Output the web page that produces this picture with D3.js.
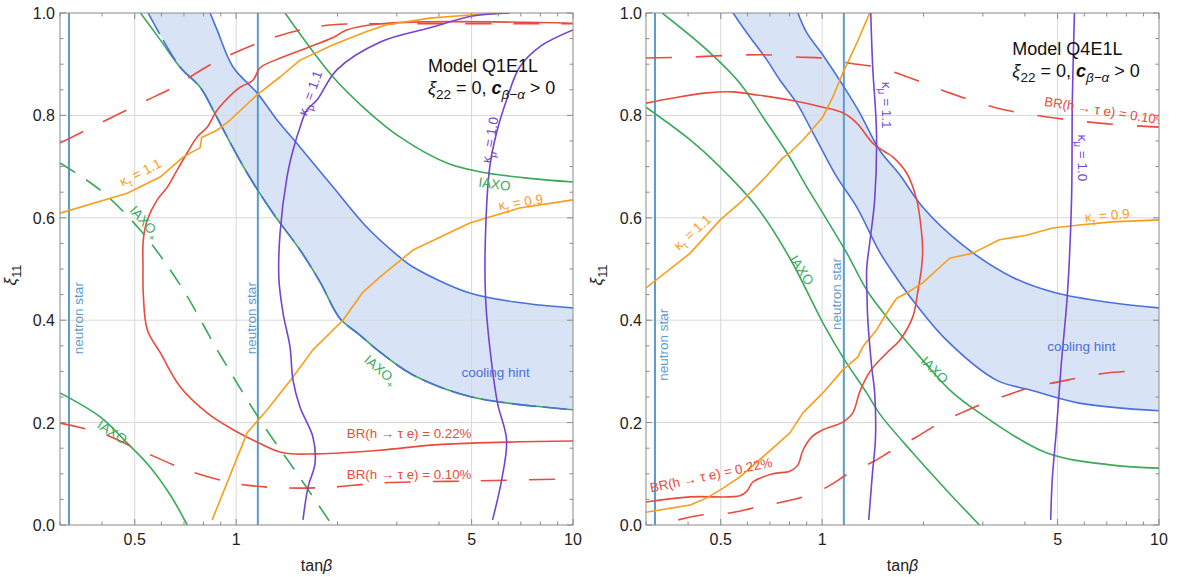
<!DOCTYPE html>
<html>
<head>
<meta charset="utf-8">
<script src="https://cdn.jsdelivr.net/npm/d3@7"></script>
<style>
body { margin: 0; background: #fff; }
svg text { font-family: "Liberation Sans", Arial, sans-serif; }
</style>
</head>
<body>
<div id="chart"></div>
<script>
// --> DATA (tanBeta, xi11)

var xMajor = [0.5, 1, 5, 10];
var xMinor = [0.3, 0.4, 0.6, 0.7, 0.8, 0.9, 2, 3, 4, 6, 7, 8, 9];
var yMajor = [0, 0.2, 0.4, 0.6, 0.8, 1.0];
var yMinor = [0.05, 0.1, 0.15, 0.25, 0.3, 0.35, 0.45, 0.5, 0.55, 0.65, 0.7, 0.75, 0.85, 0.9, 0.95];
var neutronStar = [0.319, 1.16];

// Model Q1E1L
var q1CoolUpper = [[0.837,1.0],[0.878,0.967],[0.98,0.894],[1.154,0.844],[1.323,0.791],[1.548,0.738],
    [1.94,0.66],[2.44,0.582],[3.06,0.523],[3.35,0.504],[4.94,0.453],[7,0.434],[10,0.424]];
var q1CoolLower = [[0.548,1.0],[0.682,0.894],[0.782,0.855],[0.855,0.81],[0.94,0.758],[1.078,0.6875],
    [1.287,0.609],[1.548,0.537],[1.774,0.475],[2.03,0.404],[2.33,0.371],[2.67,0.338],[3.35,0.293],
    [5.0,0.25],[10,0.225]];
var q1IaxoPlus = [[0.52,1.0],[0.596,0.947],[0.682,0.894],[0.782,0.855],[0.855,0.81],[0.94,0.758],
    [1.078,0.6875],[1.287,0.609],[1.548,0.537],[1.774,0.475],[2.03,0.404],[2.33,0.371],[2.67,0.338],
    [3.35,0.293],[5.0,0.25],[10,0.225]];
var q1IaxoPlusDashed = [[0.3,0.707],[0.395,0.654],[0.519,0.576],[0.682,0.469],[0.897,0.332],
    [1.178,0.205],[1.548,0.092],[1.925,0.0]];
var q1IaxoUpper = [[1.397,1.0],[1.94,0.875],[2.44,0.81],[3.06,0.758],[4.22,0.707],[5.28,0.69],
    [7.43,0.677],[10,0.67]];
var q1IaxoLower = [[0.3,0.258],[0.395,0.211],[0.475,0.16],[0.556,0.113],[0.637,0.059],[0.716,0.0]];
var q1BrSolid = [[10,0.98],[2.8,0.98],[2.13,0.967],[1.94,0.952],[1.378,0.914],[1.178,0.893],
    [1.123,0.869],[1.028,0.855],[0.98,0.844],[0.878,0.81],[0.82,0.777],[0.766,0.758],[0.716,0.727],
    [0.668,0.693],[0.625,0.66],[0.583,0.635],[0.545,0.596],[0.53,0.557],[0.529,0.504],[0.53,0.453],
    [0.545,0.381],[0.596,0.336],[0.682,0.27],[0.82,0.219],[0.98,0.186],[1.154,0.162],[1.378,0.141],
    [1.738,0.139],[2.67,0.146],[3.76,0.156],[5.0,0.16],[10,0.164]];
var q1BrDashedUpper = [[0.3,0.746],[0.395,0.785],[0.545,0.83],[0.651,0.855],[0.855,0.902],
    [1.178,0.943],[1.548,0.967],[1.94,0.977],[3.06,0.979],[10,0.979]];
var q1BrDashedLower = [[0.3,0.199],[0.395,0.18],[0.519,0.146],[0.716,0.107],[0.98,0.082],
    [1.236,0.074],[1.548,0.072],[1.94,0.074],[2.67,0.082],[4.94,0.086],[10,0.09]];
var q1KtauHigh = [[0.3,0.609],[0.475,0.648],[0.596,0.68],[0.697,0.719],[0.782,0.737],[0.79,0.757],
    [0.878,0.771],[0.96,0.791],[1.154,0.84],[1.35,0.875],[1.548,0.908],[1.94,0.938],[2.44,0.964],
    [2.8,0.977],[3.76,0.99],[4.94,0.996],[6.5,1.0]];
var q1KtauLow = [[0.849,0.01],[1.078,0.18],[1.236,0.225],[1.475,0.289],[1.69,0.342],[2.075,0.40],
    [2.38,0.455],[2.67,0.484],[3.35,0.537],[4.94,0.59],[6.94,0.619],[10,0.635]];
var q1KmuHigh = [[1.579,0.01],[1.635,0.074],[1.715,0.121],[1.69,0.172],[1.548,0.23],[1.475,0.283],
    [1.445,0.348],[1.378,0.414],[1.34,0.479],[1.35,0.57],[1.416,0.68],[1.475,0.732],[1.548,0.777],
    [1.623,0.811],[1.738,0.83],[1.99,0.889],[2.67,0.943],[3.76,0.971],[5.04,0.994],[6.48,1.0]];
var q1KmuLow = [[5.77,0.01],[6.14,0.088],[6.35,0.166],[5.97,0.238],[5.66,0.348],[5.5,0.445],
    [5.5,0.57],[5.66,0.699],[5.93,0.766],[6.35,0.83],[6.94,0.894],[7.96,0.934],[10,0.967]];

// Model Q4E1L
var q4CoolUpper = [[0.847,1.0],[0.901,0.961],[1.005,0.918],[1.152,0.859],[1.293,0.805],[1.482,0.732],
    [1.70,0.684],[1.987,0.621],[2.61,0.547],[3.67,0.484],[4.96,0.453],[7.26,0.434],[10,0.424]];
var q4CoolLower = [[0.544,1.0],[0.598,0.961],[0.686,0.908],[0.749,0.869],[0.841,0.824],[0.92,0.777],
    [1.0,0.732],[1.105,0.68],[1.267,0.621],[1.482,0.533],[1.665,0.482],[1.857,0.439],[2.34,0.361],
    [3.29,0.283],[4.13,0.264],[5.8,0.238],[10,0.223]];
var q4IaxoUpper = [[0.335,1.0],[0.455,0.928],[0.57,0.863],[0.667,0.797],[0.786,0.727],[0.901,0.66],
    [1.005,0.609],[1.184,0.531],[1.356,0.459],[1.555,0.406],[1.734,0.367],[1.987,0.322],[2.39,0.264],
    [2.93,0.219],[4.63,0.141],[7.26,0.117],[10,0.111]];
var q4IaxoLower = [[0.3,0.816],[0.406,0.752],[0.498,0.699],[0.64,0.621],[0.802,0.521],[1.005,0.395],
    [1.152,0.328],[1.356,0.258],[1.482,0.217],[1.857,0.141],[2.34,0.068],[2.93,0.0]];
var q4BrSolid = [[0.3,0.824],[0.361,0.834],[0.455,0.844],[0.544,0.846],[0.64,0.84],[0.802,0.83],
    [1.005,0.816],[1.152,0.805],[1.267,0.785],[1.413,0.746],[1.534,0.729],[1.62,0.719],[1.781,0.6875],
    [1.909,0.635],[1.974,0.57],[1.988,0.537],[1.974,0.504],[1.92,0.453],[1.857,0.406],[1.70,0.361],
    [1.555,0.336],[1.384,0.299],[1.293,0.26],[1.233,0.219],[1.152,0.201],[1.005,0.186],[0.932,0.172],
    [0.877,0.146],[0.847,0.117],[0.802,0.105],[0.714,0.10],[0.623,0.084],[0.598,0.066],[0.57,0.057],
    [0.406,0.055],[0.3,0.045]];
var q4BrDashedUpper = [[0.3,0.912],[0.406,0.914],[0.57,0.918],[0.714,0.918],[0.84,0.914],[1.005,0.912],
    [1.208,0.902],[1.482,0.893],[2.01,0.863],[2.39,0.844],[3.32,0.814],[4.66,0.797],[6.65,0.785],
    [10,0.777]];
var q4BrDashedLower = [[0.374,0.01],[0.443,0.02],[0.526,0.023],[0.623,0.033],[0.739,0.043],
    [0.877,0.055],[1.032,0.074],[1.208,0.102],[1.413,0.123],[1.587,0.143],[1.906,0.172],[2.23,0.199],
    [2.59,0.219],[3.03,0.238],[3.55,0.254],[4.21,0.27],[4.99,0.279],[5.92,0.289],[7.02,0.297],
    [8.44,0.301]];
var q4KtauHigh = [[0.3,0.463],[0.406,0.531],[0.498,0.596],[0.57,0.629],[0.667,0.674],[0.764,0.717],
    [0.802,0.727],[0.877,0.752],[1.005,0.797],[1.076,0.836],[1.152,0.883],[1.267,0.941],[1.384,1.0]];
var q4KtauLow = [[0.3,0.025],[0.406,0.039],[0.455,0.053],[0.508,0.072],[0.57,0.094],[0.64,0.123],
    [0.714,0.15],[0.802,0.18],[0.877,0.219],[1.005,0.258],[1.152,0.303],[1.275,0.328],[1.32,0.348],
    [1.45,0.381],[1.555,0.414],[1.664,0.443],[1.781,0.453],[1.988,0.473],[2.39,0.521],[2.80,0.531],
    [3.36,0.557],[4.04,0.566],[4.83,0.58],[5.80,0.586],[7.26,0.592],[10,0.596]];
var q4KmuHigh = [[1.394,1.0],[1.413,0.894],[1.45,0.766],[1.432,0.635],[1.39,0.56],[1.356,0.5],
    [1.36,0.44],[1.365,0.406],[1.403,0.309],[1.432,0.258],[1.44,0.17],[1.41,0.1],[1.375,0.01]];
var q4KmuLow = [[5.61,1.0],[5.53,0.83],[5.5,0.635],[5.35,0.453],[5.13,0.316],[4.96,0.186],
    [4.82,0.088],[4.77,0.01]];

// --> DRAWING
var width = 1179, height = 577;
var svg = d3.select("#chart").append("svg")
    .attr("width", width)
    .attr("height", height);

var col = {
    red: "#ea4b3c", orange: "#f99e1a", green: "#3aa95a", purple: "#7444d2",
    blue: "#4a70dc", fill: "#d9e3f6", ns: "#5b9bd0", grid: "#d8d8d8", frame: "#8a8a8a"
};

// append text made of parts (sub = subscript, it = italic, b = bold)
function rich(sel, parts, size) {
    var shift = 0;
    parts.forEach(function (p) {
        var ts = sel.append("tspan").text(p.t);
        var target = p.sub ? size * 0.3 : 0;
        ts.attr("dy", target - shift);
        shift = target;
        if (p.sub) ts.attr("font-size", size * 0.75);
        if (p.it) ts.attr("font-style", "italic");
        if (p.b) ts.attr("font-weight", "bold");
    });
}

function drawPanel(cfg) {
    var x = d3.scaleLog().domain([0.3, 10]).range([cfg.left, cfg.right]);
    var y = d3.scaleLinear().domain([0, 1]).range([525, 13]);
    var g = svg.append("g");

    g.append("clipPath").attr("id", "clip-" + cfg.id)
        .append("rect")
        .attr("x", cfg.left).attr("y", 13)
        .attr("width", cfg.right - cfg.left).attr("height", 512);

    var smooth = d3.line().x(function (d) { return x(d[0]); })
        .y(function (d) { return y(d[1]); })
        .curve(d3.curveCatmullRom.alpha(0.5));
    var straight = d3.line().x(function (d) { return x(d[0]); })
        .y(function (d) { return y(d[1]); });

    var plot = g.append("g").attr("clip-path", "url(#clip-" + cfg.id + ")");

    // cooling hint band
    var lowerRev = cfg.coolLower.slice().reverse();
    var bandPath = smooth(cfg.coolUpper) + "L" + smooth(lowerRev).slice(1) + "Z";
    plot.append("path").attr("d", bandPath).attr("fill", col.fill).attr("stroke", "none");

    // grid
    plot.selectAll(".gx").data(xMajor.slice(0, 3)).enter().append("line")
        .attr("x1", function (d) { return x(d); }).attr("x2", function (d) { return x(d); })
        .attr("y1", 13).attr("y2", 525)
        .attr("stroke", col.grid).attr("stroke-width", 1);
    plot.selectAll(".gy").data(yMajor.slice(1, 5)).enter().append("line")
        .attr("y1", function (d) { return y(d); }).attr("y2", function (d) { return y(d); })
        .attr("x1", cfg.left).attr("x2", cfg.right)
        .attr("stroke", col.grid).attr("stroke-width", 1);

    // neutron star lines
    plot.selectAll(".ns").data(neutronStar).enter().append("line")
        .attr("x1", function (d) { return x(d); }).attr("x2", function (d) { return x(d); })
        .attr("y1", 13).attr("y2", 525)
        .attr("stroke", col.ns).attr("stroke-width", 2);

    cfg.curves.forEach(function (c) {
        plot.append("path")
            .attr("d", (c.linear ? straight : smooth)(c.data))
            .attr("fill", "none")
            .attr("stroke", c.color)
            .attr("stroke-width", c.w || 1.6)
            .attr("stroke-dasharray", c.dash || null)
            .attr("stroke-linejoin", "round");
    });

    // labels
    cfg.labels.forEach(function (l) {
        var px = l.px !== undefined ? l.px : x(l.x);
        var fs = l.size || 13.5;
        var t = plot.append("text")
            .attr("transform", "translate(" + px + "," + y(l.y) + ") rotate(" + (l.r || 0) + ")")
            .attr("text-anchor", l.anchor || "middle")
            .attr("y", fs * 0.36)
            .attr("font-size", fs)
            .attr("fill", l.color);
        rich(t, l.parts, fs);
    });

    // frame and ticks
    var frame = g.append("g");
    frame.append("rect")
        .attr("x", cfg.left).attr("y", 13)
        .attr("width", cfg.right - cfg.left).attr("height", 512)
        .attr("fill", "none").attr("stroke", col.frame).attr("stroke-width", 1);

    function xTicks(vals, len) {
        vals.forEach(function (v) {
            frame.append("line").attr("x1", x(v)).attr("x2", x(v)).attr("y1", 525).attr("y2", 525 - len)
                .attr("stroke", col.frame);
            frame.append("line").attr("x1", x(v)).attr("x2", x(v)).attr("y1", 13).attr("y2", 13 + len)
                .attr("stroke", col.frame);
        });
    }
    function yTicks(vals, len) {
        vals.forEach(function (v) {
            frame.append("line").attr("y1", y(v)).attr("y2", y(v)).attr("x1", cfg.left).attr("x2", cfg.left + len)
                .attr("stroke", col.frame);
            frame.append("line").attr("y1", y(v)).attr("y2", y(v)).attr("x1", cfg.right).attr("x2", cfg.right - len)
                .attr("stroke", col.frame);
        });
    }
    xTicks(xMajor, 6);
    xTicks(xMinor, 3.5);
    yTicks(yMajor, 6);
    yTicks(yMinor, 3.5);

    g.selectAll(".xl").data(xMajor).enter().append("text")
        .attr("x", function (d) { return x(d); }).attr("y", 545)
        .attr("text-anchor", "middle").attr("font-size", 16).attr("fill", "#222")
        .text(function (d) { return d; });
    g.selectAll(".yl").data(yMajor).enter().append("text")
        .attr("x", cfg.left - cfg.tickGap).attr("y", function (d) { return y(d) + 6; })
        .attr("text-anchor", "end").attr("font-size", 16).attr("fill", "#222")
        .text(function (d) { return d.toFixed(1); });

    // axis titles
    var xt = g.append("text").attr("x", (cfg.left + cfg.right) / 2).attr("y", 571)
        .attr("text-anchor", "middle").attr("font-size", 16).attr("fill", "#222");
    rich(xt, [{t: "tan"}, {t: "\u03B2", it: true}], 16);
    var yt = g.append("text")
        .attr("transform", "translate(" + (cfg.left - 44) + ",275) rotate(-90)")
        .attr("text-anchor", "middle").attr("font-size", 17).attr("fill", "#222");
    rich(yt, [{t: "\u03BE", it: true}, {t: "11", sub: true}], 17);

    // model title
    var m1 = g.append("text").attr("x", x(cfg.titleX)).attr("y", y(cfg.titleY))
        .attr("font-size", 18).attr("fill", "#111");
    rich(m1, [{t: cfg.title}], 18);
    var m2 = g.append("text").attr("x", x(cfg.titleX)).attr("y", y(cfg.titleY) + 22)
        .attr("font-size", 18).attr("fill", "#111");
    rich(m2, [{t: "\u03BE", it: true}, {t: "22", sub: true}, {t: " = 0, "},
        {t: "c", it: true, b: true}, {t: "\u03B2\u2212\u03B1", sub: true, it: true}, {t: " > 0"}], 18);

    return {x: x, y: y};
}

var ktau = function (v) { return [{t: "\u03BA"}, {t: "\u03C4", sub: true}, {t: " = " + v}]; };
var kmu = function (v) { return [{t: "\u03BA"}, {t: "\u03BC", sub: true}, {t: " = " + v}]; };
var br = function (v) { return [{t: "BR(h \u2192 \u03C4 e) = " + v}]; };
var iaxoP = [{t: "IAXO"}, {t: "+", sub: true}];

drawPanel({
    id: "q1", left: 60, right: 573, tickGap: 5,
    title: "Model Q1E1L", titleX: 3.71, titleY: 0.885,
    coolUpper: q1CoolUpper, coolLower: q1CoolLower,
    curves: [
        {data: q1IaxoPlus, color: col.green},
        {data: q1CoolUpper, color: col.blue},
        {data: q1CoolLower, color: col.blue, dash: "24,7"},
        {data: q1IaxoPlusDashed, color: col.green, dash: "18,13"},
        {data: q1IaxoUpper, color: col.green},
        {data: q1IaxoLower, color: col.green},
        {data: q1BrSolid, color: col.red},
        {data: q1BrDashedUpper, color: col.red, dash: "26,22"},
        {data: q1BrDashedLower, color: col.red, dash: "26,22"},
        {data: q1KtauHigh, color: col.orange, linear: true},
        {data: q1KtauLow, color: col.orange, linear: true},
        {data: q1KmuHigh, color: col.purple},
        {data: q1KmuLow, color: col.purple}
    ],
    labels: [
        {px: 78, y: 0.404, r: -90, parts: [{t: "neutron star"}], color: col.ns},
        {px: 251, y: 0.404, r: -90, parts: [{t: "neutron star"}], color: col.ns},
        {x: 0.537, y: 0.592, r: 48, parts: iaxoP, color: col.green},
        {x: 0.429, y: 0.182, r: 33, parts: [{t: "IAXO"}], color: col.green},
        {x: 2.69, y: 0.303, r: 40, parts: iaxoP, color: col.green},
        {x: 5.85, y: 0.666, r: 8, parts: [{t: "IAXO"}], color: col.green},
        {x: 0.519, y: 0.689, r: -27, parts: ktau("1.1"), color: col.orange},
        {x: 6.99, y: 0.631, r: -9, parts: ktau("0.9"), color: col.orange},
        {x: 1.657, y: 0.844, r: -70, parts: kmu("1.1"), color: col.purple},
        {x: 5.66, y: 0.752, r: -80, parts: kmu("1.0"), color: col.purple},
        {x: 2.13, y: 0.18, anchor: "start", size: 13.3, parts: br("0.22%"), color: col.red},
        {x: 2.13, y: 0.10, anchor: "start", size: 13.3, parts: br("0.10%"), color: col.red},
        {x: 5.89, y: 0.299, parts: [{t: "cooling hint"}], color: col.blue}
    ]
});

drawPanel({
    id: "q4", left: 646, right: 1159, tickGap: 4,
    title: "Model Q4E1L", titleX: 3.67, titleY: 0.918,
    coolUpper: q4CoolUpper, coolLower: q4CoolLower,
    curves: [
        {data: q4CoolUpper, color: col.blue},
        {data: q4CoolLower, color: col.blue},
        {data: q4IaxoUpper, color: col.green},
        {data: q4IaxoLower, color: col.green},
        {data: q4BrSolid, color: col.red},
        {data: q4BrDashedUpper, color: col.red, dash: "26,24"},
        {data: q4BrDashedLower, color: col.red, dash: "26,24"},
        {data: q4KtauHigh, color: col.orange, linear: true},
        {data: q4KtauLow, color: col.orange, linear: true},
        {data: q4KmuHigh, color: col.purple},
        {data: q4KmuLow, color: col.purple}
    ],
    labels: [
        {px: 663, y: 0.352, r: -90, parts: [{t: "neutron star"}], color: col.ns},
        {px: 836, y: 0.451, r: -90, parts: [{t: "neutron star"}], color: col.ns},
        {x: 0.871, y: 0.498, r: 57, parts: [{t: "IAXO"}], color: col.green},
        {x: 2.16, y: 0.303, r: 45, parts: [{t: "IAXO"}], color: col.green},
        {x: 0.411, y: 0.572, r: -42, parts: ktau("1.1"), color: col.orange},
        {x: 7.02, y: 0.605, r: -5, parts: ktau("0.9"), color: col.orange},
        {x: 1.555, y: 0.82, r: 90, parts: kmu("1.1"), color: col.purple},
        {x: 5.93, y: 0.717, r: 90, parts: kmu("1.0"), color: col.purple},
        {x: 0.468, y: 0.098, r: -12, size: 13.3, parts: br("0.22%"), color: col.red},
        {x: 4.57, y: 0.828, r: 9, anchor: "start", size: 13.3, parts: br("0.10%"), color: col.red},
        {x: 5.88, y: 0.35, parts: [{t: "cooling hint"}], color: col.blue}
    ]
});
</script>
</body>
</html>
